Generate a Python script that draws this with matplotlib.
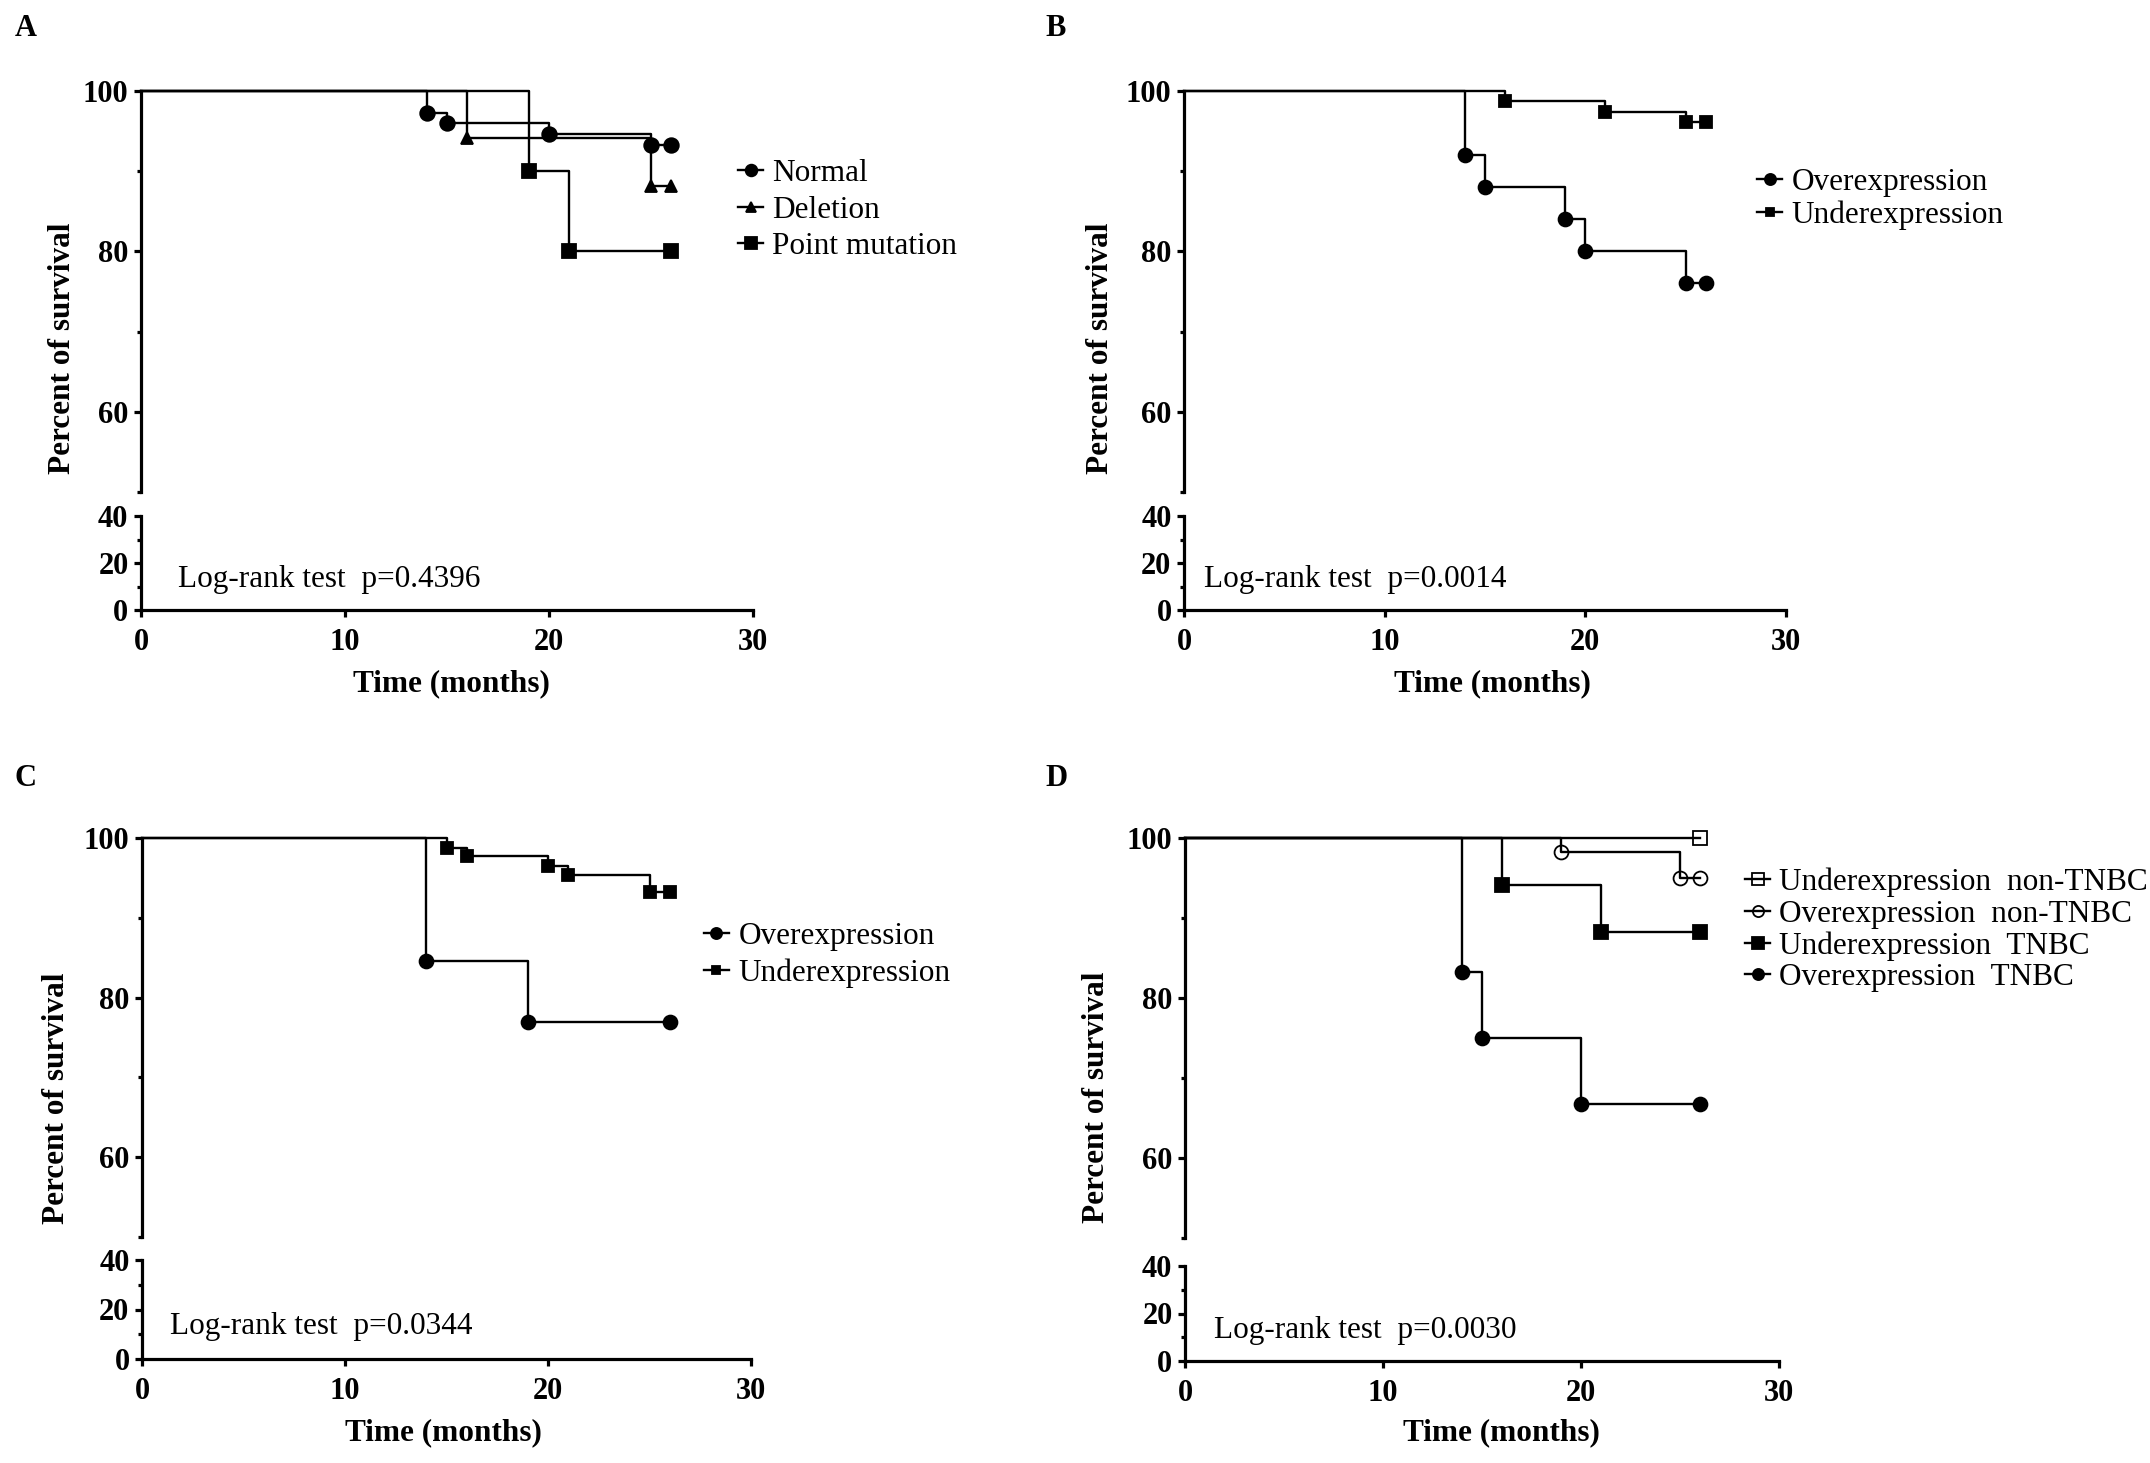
import matplotlib
matplotlib.use("Agg")
import matplotlib.pyplot as plt
from matplotlib.lines import Line2D
from matplotlib.ticker import FixedLocator

plt.rcParams['font.family'] = ['Liberation Serif', 'DejaVu Serif']

# ---- data (time in months, percent survival) ----
# Panel A
a_normal_t = [14, 15, 20, 25, 26]
a_normal_s = [97.2, 96.0, 94.7, 93.3, 93.3]
a_deletion_t = [16, 25, 26]
a_deletion_s = [94.1, 88.2, 88.2]
a_point_t = [19, 21, 26]
a_point_s = [90.0, 80.0, 80.0]
a_labels = ["Normal", "Deletion", "Point mutation"]
a_p = "Log-rank test  p=0.4396"

# Panel B
b_over_t = [14, 15, 19, 20, 25, 26]
b_over_s = [92.0, 88.0, 84.0, 80.0, 76.0, 76.0]
b_under_t = [16, 21, 25, 26]
b_under_s = [98.7, 97.4, 96.1, 96.1]
b_labels = ["Overexpression", "Underexpression"]
b_p = "Log-rank test  p=0.0014"

# Panel C
c_over_t = [14, 19, 26]
c_over_s = [84.6, 76.9, 76.9]
c_under_t = [15, 16, 20, 21, 25, 26]
c_under_s = [98.8, 97.7, 96.5, 95.4, 93.2, 93.2]
c_labels = ["Overexpression", "Underexpression"]
c_p = "Log-rank test  p=0.0344"

# Panel D
d_under_non_t = [26]
d_under_non_s = [100.0]
d_over_non_t = [19, 25, 26]
d_over_non_s = [98.2, 95.0, 95.0]
d_under_tn_t = [16, 21, 26]
d_under_tn_s = [94.1, 88.2, 88.2]
d_over_tn_t = [14, 15, 20, 26]
d_over_tn_s = [83.3, 75.0, 66.7, 66.7]
d_labels = ["Underexpression  non-TNBC", "Overexpression  non-TNBC",
            "Underexpression  TNBC", "Overexpression  TNBC"]
d_p = "Log-rank test  p=0.0030"

x_ticks = [0, 10, 20, 30]
up_ticks = [60, 80, 100]
up_minor = [50, 70, 90]
low_ticks = [0, 20, 40]
low_minor = [10, 30]

W, H = 2150, 1463
fig = plt.figure(figsize=(W / 100, H / 100), dpi=100)


def px_rect(x0, x1, y0, y1):
    # pixel box (top y0, bottom y1) -> figure fraction rect
    return [x0 / W, 1 - y1 / H, (x1 - x0) / W, (y1 - y0) / H]


SPW = 2.3
TICKFS = 22


def style_axis(ax):
    ax.tick_params(axis='both', which='major', direction='out', length=5,
                   width=SPW, labelsize=TICKFS, pad=4)
    ax.tick_params(axis='both', which='minor', direction='out', length=3,
                   width=SPW)
    for lab in ax.get_yticklabels() + ax.get_xticklabels():
        lab.set_fontweight('bold')


def panel(xl, xr, up_top, up_bot, low_top, low_bot, series, labels, ptxt, ppos,
          leg_xy, leg_space, letter, letter_xy, ylab_xy, xlab_xy):
    ax = fig.add_axes(px_rect(xl, xr, up_top, up_bot))
    axl = fig.add_axes(px_rect(xl, xr, low_top, low_bot))

    handles = []
    for (t, s, mk, ms, mfc), lab in zip(series, labels):
        ax.step([0] + t, [100] + s, where='post', color='black', lw=1.7,
                clip_on=False, zorder=3)
        ax.plot(t, s, linestyle='none', marker=mk, markersize=ms,
                markerfacecolor=mfc, markeredgecolor='black', markeredgewidth=1.3,
                clip_on=False, zorder=4)
        handles.append(Line2D([], [], color='black', lw=1.7, marker=mk,
                              markersize=ms * 0.8, markerfacecolor=mfc,
                              markeredgecolor='black', markeredgewidth=1.3))

    ax.set_xlim(0, 30)
    ax.set_ylim(50, 100)
    ax.yaxis.set_major_locator(FixedLocator(up_ticks))
    ax.yaxis.set_minor_locator(FixedLocator(up_minor))
    ax.set_xticks([])
    for sp in ['top', 'right', 'bottom']:
        ax.spines[sp].set_visible(False)
    ax.spines['left'].set_linewidth(SPW)
    ax.patch.set_visible(False)
    style_axis(ax)

    axl.set_xlim(0, 30)
    axl.set_ylim(0, 40)
    axl.set_xticks(x_ticks)
    axl.yaxis.set_major_locator(FixedLocator(low_ticks))
    axl.yaxis.set_minor_locator(FixedLocator(low_minor))
    for sp in ['top', 'right']:
        axl.spines[sp].set_visible(False)
    axl.spines['left'].set_linewidth(SPW)
    axl.spines['bottom'].set_linewidth(SPW)
    axl.patch.set_visible(False)
    style_axis(axl)
    axl.tick_params(axis='x', pad=8)
    axl.text(ppos[0], ppos[1], ptxt, fontsize=22.5, va='center', ha='left')

    fig.legend(handles=handles, labels=labels, loc='center left',
               bbox_to_anchor=(leg_xy[0] / W, 1 - leg_xy[1] / H),
               bbox_transform=fig.transFigure, frameon=False, fontsize=22.5,
               handlelength=0.8, handletextpad=0.3, labelspacing=leg_space,
               borderpad=0, borderaxespad=0)

    fig.text(letter_xy[0] / W, 1 - letter_xy[1] / H, letter, fontsize=22,
             fontweight='bold', ha='left', va='center')
    fig.text(ylab_xy[0] / W, 1 - ylab_xy[1] / H, "Percent of survival",
             fontsize=22.5, fontweight='bold', rotation=90, ha='center', va='center')
    fig.text(xlab_xy[0] / W, 1 - xlab_xy[1] / H, "Time (months)",
             fontsize=22.5, fontweight='bold', ha='center', va='center')


panel(141, 753, 91, 492, 516, 610,
      [(a_normal_t, a_normal_s, 'o', 10.5, 'black'),
       (a_deletion_t, a_deletion_s, '^', 8.5, 'black'),
       (a_point_t, a_point_s, 's', 10, 'black')],
      a_labels, a_p, (1.8, 13), (738, 210), 0.25, "A", (15, 28), (62, 348), (451, 684))

panel(1184, 1786, 91, 492, 516, 610,
      [(b_over_t, b_over_s, 'o', 10, 'black'),
       (b_under_t, b_under_s, 's', 8, 'black')],
      b_labels, b_p, (1.0, 13), (1757, 199), 0.1, "B", (1045, 28), (1100, 348), (1492, 684))

panel(142, 751, 838, 1237, 1260, 1359,
      [(c_over_t, c_over_s, 'o', 10, 'black'),
       (c_under_t, c_under_s, 's', 8, 'black')],
      c_labels, c_p, (1.4, 13), (704, 955), 0.25, "C", (15, 779), (57, 1098), (443, 1433))

panel(1185, 1779, 838, 1238, 1266, 1361,
      [(d_under_non_t, d_under_non_s, 's', 10, 'none'),
       (d_over_non_t, d_over_non_s, 'o', 10, 'none'),
       (d_under_tn_t, d_under_tn_s, 's', 10, 'black'),
       (d_over_tn_t, d_over_tn_s, 'o', 10, 'black')],
      d_labels, d_p, (1.45, 13), (1745, 930), 0.08, "D", (1045, 779), (1097, 1097), (1501, 1433))

fig.savefig("out.png", dpi=100)
